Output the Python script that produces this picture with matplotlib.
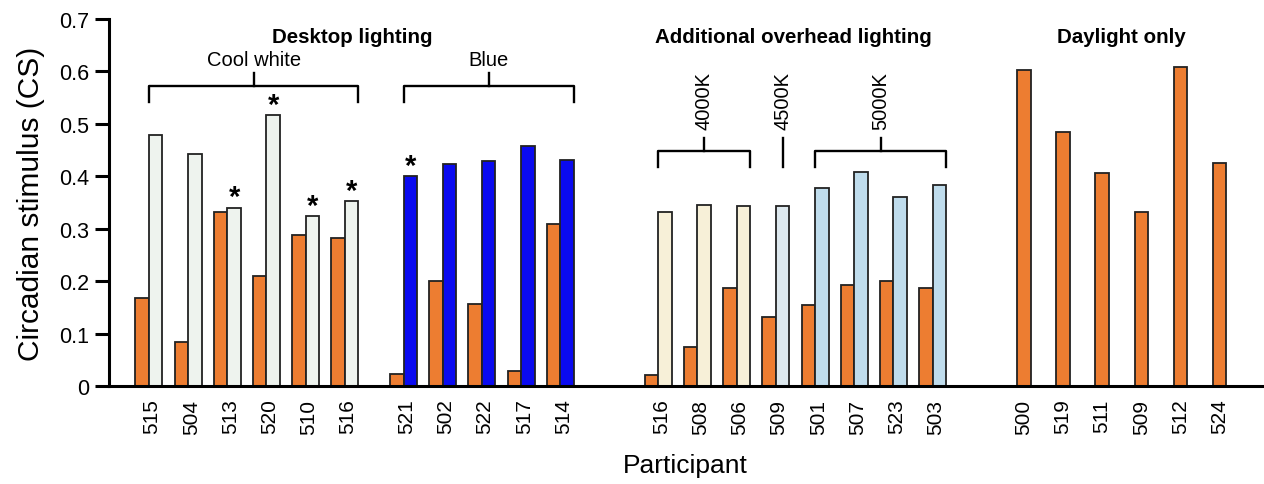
import numpy as np
import matplotlib
matplotlib.use("Agg")
import matplotlib.pyplot as plt

plt.rcParams['font.family'] = ['Liberation Sans', 'DejaVu Sans']

# participants and circadian stimulus, baseline (orange) vs intervention
cool_ids = ["515", "504", "513", "520", "510", "516"]
cool_base = [0.168, 0.084, 0.332, 0.210, 0.288, 0.283]
cool_int = [0.478, 0.443, 0.340, 0.517, 0.324, 0.352]
cool_star = [False, False, True, True, True, True]

blue_ids = ["521", "502", "522", "517", "514"]
blue_base = [0.022, 0.201, 0.156, 0.029, 0.309]
blue_int = [0.400, 0.424, 0.429, 0.458, 0.430]
blue_star = [True, False, False, False, False]

k4000_ids = ["516", "508", "506"]
k4000_base = [0.021, 0.075, 0.186]
k4000_int = [0.331, 0.345, 0.344]

k4500_ids = ["509"]
k4500_base = [0.132]
k4500_int = [0.343]

k5000_ids = ["501", "507", "523", "503"]
k5000_base = [0.154, 0.193, 0.201, 0.186]
k5000_int = [0.377, 0.409, 0.360, 0.384]

day_ids = ["500", "519", "511", "509", "512", "524"]
day_vals = [0.603, 0.484, 0.406, 0.331, 0.609, 0.425]

orange = "#ED7D31"
edge = "#222222"
w = 0.345

fig = plt.figure(figsize=(12.64, 4.85), dpi=100)
ax = fig.add_axes([0.0862, 0.202, 0.912, 0.757])

ticks, labels = [], []


def pairs(start, ids, base, inter, color, stars=None):
    x = start + np.arange(len(ids))
    ax.bar(x - w / 2, base, w, color=orange, edgecolor=edge, linewidth=1.3, zorder=3)
    ax.bar(x + w / 2, inter, w, color=color, edgecolor=edge, linewidth=1.3, zorder=3)
    if stars:
        for xi, v, s in zip(x, inter, stars):
            if s:
                ax.text(xi + w / 2, v - 0.007, "*", ha="center", va="bottom",
                        fontsize=21, fontweight="bold", zorder=4)
    ticks.extend(x + 0.08)
    labels.extend(ids)
    return x


def bracket(x0, x1, y, label, rot=0, drop=0.03, rise=0.024):
    xc = (x0 + x1) / 2
    if x1 > x0:
        ax.plot([x0, x0, x1, x1], [y - drop, y, y, y - drop], color="black",
                lw=1.7, clip_on=False)
        ax.plot([xc, xc], [y, y + rise], color="black", lw=1.7, clip_on=False)
    else:
        ax.plot([xc, xc], [y - drop, y + rise], color="black", lw=1.7, clip_on=False)
    if rot:
        ax.text(xc, y + rise + 0.018, label, rotation=90, ha="center", va="bottom",
                fontsize=14.5)
    else:
        ax.text(xc, y + rise + 0.008, label, ha="center", va="bottom", fontsize=14.5)


xc = pairs(0, cool_ids, cool_base, cool_int, "#EEF3EE", cool_star)
xb = pairs(6.5, blue_ids, blue_base, blue_int, "#0A0AF0", blue_star)
x4 = pairs(13, k4000_ids, k4000_base, k4000_int, "#F7F0D8")
x45 = pairs(16, k4500_ids, k4500_base, k4500_int, "#DDE8EE")
x5 = pairs(17, k5000_ids, k5000_base, k5000_int, "#BFDCEC")

# daylight only: single baseline bar per participant
xd = 22.5 + np.arange(len(day_ids)) - w / 2
ax.bar(xd, day_vals, w, color=orange, edgecolor=edge, linewidth=1.3, zorder=3)
ticks.extend(xd)
labels.extend(day_ids)

bracket(xc[0], xc[-1] + w, 0.572, "Cool white")
bracket(xb[0], xb[-1] + w, 0.572, "Blue")
bracket(x4[0], x4[-1] + w, 0.448, "4000K", rot=True)
bracket(x45[0] + w / 2, x45[0] + w / 2, 0.448, "4500K", rot=True)
bracket(x5[0], x5[-1] + w, 0.448, "5000K", rot=True)

for xh, txt in [(5.19, "Desktop lighting"), (16.44, "Additional overhead lighting"),
                (24.83, "Daylight only")]:
    ax.text(xh, 0.666, txt, ha="center", va="center", fontsize=14.8, fontweight="bold")

ax.set_xlim(-1.02, 28.4)
ax.set_ylim(0, 0.7)
ax.set_yticks(np.arange(0, 0.71, 0.1))
ax.set_yticklabels(["0"] + [f"{v:.1f}" for v in np.arange(0.1, 0.71, 0.1)])
ax.set_xticks(ticks)
ax.set_xticklabels(labels, rotation=90)
ax.tick_params(axis="x", length=0, pad=9, labelsize=15)
ax.tick_params(axis="y", length=10, width=2.2, labelsize=15.5, pad=4)
for s in ["top", "right"]:
    ax.spines[s].set_visible(False)
ax.spines["left"].set_linewidth(2.2)
ax.spines["bottom"].set_linewidth(2.2)
ax.spines["bottom"].set_zorder(5)

ax.set_ylabel("Circadian stimulus (CS)", fontsize=21.5, labelpad=10)
ax.set_xlabel("Participant", fontsize=19, labelpad=14)

fig.savefig("out.png", dpi=100)
